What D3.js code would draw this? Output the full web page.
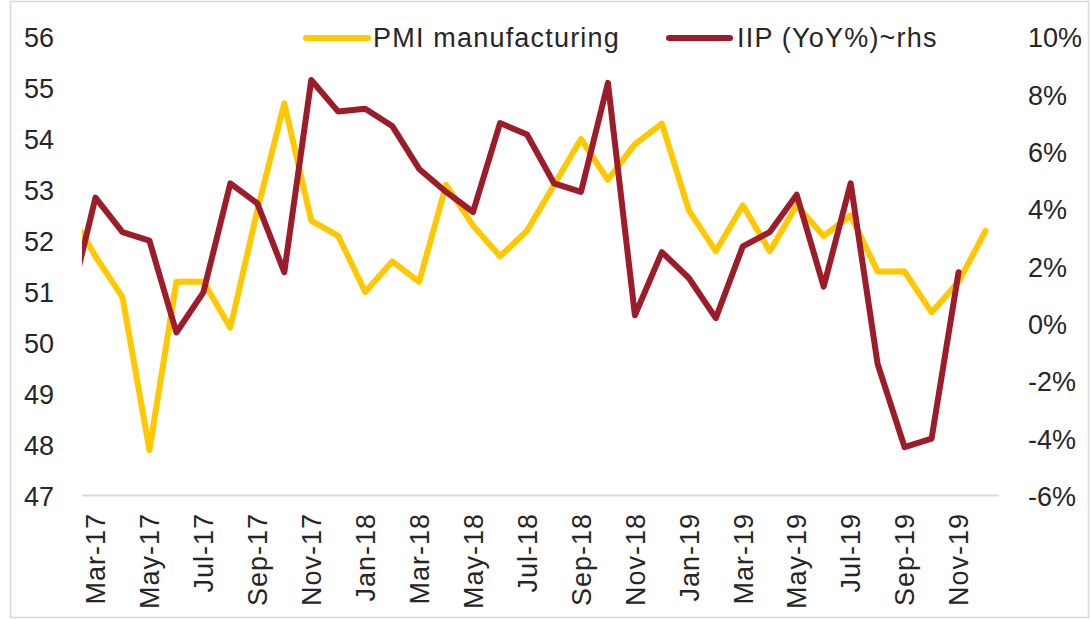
<!DOCTYPE html>
<html>
<head>
<meta charset="utf-8">
<script src="https://cdn.jsdelivr.net/npm/d3@7"></script>
<style>
  body { margin: 0; background: #fff; }
  text { font-family: "Liberation Sans", Arial, sans-serif; fill: #262626; }
</style>
</head>
<body>
<div id="box"></div>
<script>
// months start one before the first label (Feb-17); that point sits outside the plot and is clipped
const months = ['Feb-17','Mar-17','Apr-17','May-17','Jun-17','Jul-17','Aug-17','Sep-17','Oct-17','Nov-17','Dec-17',
  'Jan-18','Feb-18','Mar-18','Apr-18','May-18','Jun-18','Jul-18','Aug-18','Sep-18','Oct-18','Nov-18','Dec-18',
  'Jan-19','Feb-19','Mar-19','Apr-19','May-19','Jun-19','Jul-19','Aug-19','Sep-19','Oct-19','Nov-19','Dec-19'];

const pmi = [52.6, 51.7, 50.9, 47.9, 51.2, 51.2, 50.3, 52.6, 54.7, 52.4, 52.1,
  51.0, 51.6, 51.2, 53.1, 52.3, 51.7, 52.2, 53.1, 54.0, 53.2, 53.9, 54.3,
  52.6, 51.8, 52.7, 51.8, 52.7, 52.1, 52.5, 51.4, 51.4, 50.6, 51.2, 52.2];

const iip = [0.5, 4.4, 3.2, 2.9, -0.3, 1.1, 4.9, 4.2, 1.8, 8.5, 7.4,
  7.5, 6.9, 5.4, 4.6, 3.9, 7.0, 6.6, 4.9, 4.6, 8.4, 0.3, 2.5,
  1.6, 0.2, 2.7, 3.2, 4.5, 1.3, 4.9, -1.4, -4.3, -4.0, 1.8];

const leftTicks = [47, 48, 49, 50, 51, 52, 53, 54, 55, 56];
const rightTicks = [-6, -4, -2, 0, 2, 4, 6, 8, 10];
const xLabels = ['Mar-17','May-17','Jul-17','Sep-17','Nov-17','Jan-18','Mar-18','May-18','Jul-18',
  'Sep-18','Nov-18','Jan-19','Mar-19','May-19','Jul-19','Sep-19','Nov-19'];
const legendNames = ['PMI manufacturing', 'IIP (YoY%)~rhs'];

const W = 1091, H = 620;
const plot = { left: 82, right: 999, top: 37, bottom: 496 };
const yellow = '#FFC800', red = '#9C1C2A';

const svg = d3.select('#box').append('svg')
    .attr('width', W)
    .attr('height', H);

// outer frame
svg.append('rect')
    .attr('x', 10.5).attr('y', 1.5)
    .attr('width', 1078).attr('height', 616)
    .attr('fill', 'none')
    .attr('stroke', '#d9d9d9')
    .attr('stroke-width', 1.5);

const x = d3.scaleLinear()
    .domain([0.5, months.length - 0.5])
    .range([plot.left, plot.right]);

const yL = d3.scaleLinear().domain([47, 56]).range([plot.bottom, plot.top]);
const yR = d3.scaleLinear().domain([-6, 10]).range([plot.bottom, plot.top]);

svg.append('clipPath').attr('id', 'clip')
  .append('rect')
    .attr('x', plot.left).attr('y', 0)
    .attr('width', plot.right - plot.left).attr('height', H);

// category axis line
svg.append('line')
    .attr('x1', plot.left).attr('x2', plot.right)
    .attr('y1', plot.bottom - 0.5).attr('y2', plot.bottom - 0.5)
    .attr('stroke', '#d9d9d9')
    .attr('stroke-width', 2);

// left axis
const leftAxis = svg.append('g')
    .attr('transform', `translate(54,0)`)
    .call(d3.axisLeft(yL).tickValues(leftTicks).tickSize(0).tickPadding(0).tickFormat(d3.format('d')));
leftAxis.select('.domain').remove();

// right axis
const rightAxis = svg.append('g')
    .attr('transform', `translate(1028,0)`)
    .call(d3.axisRight(yR).tickValues(rightTicks).tickSize(0).tickPadding(0).tickFormat(d => d + '%'));
rightAxis.select('.domain').remove();

svg.selectAll('.tick text')
    .attr('font-size', '27px')
    .attr('font-family', '"Liberation Sans", Arial, sans-serif')
    .attr('fill', '#262626')
    .attr('dy', '0.36em');

// month labels, rotated
svg.append('g').selectAll('text')
  .data(xLabels)
  .join('text')
    .attr('transform', d => `translate(${x(months.indexOf(d))},513) rotate(-90)`)
    .attr('text-anchor', 'end')
    .attr('dy', '0.36em')
    .attr('font-size', '27px')
    .attr('letter-spacing', '1px')
    .text(d => d);

const lineL = d3.line()
    .x((d, i) => x(i))
    .y(d => yL(d));

const lineR = d3.line()
    .x((d, i) => x(i))
    .y(d => yR(d));

const lines = svg.append('g').attr('clip-path', 'url(#clip)');

lines.append('path')
    .datum(pmi)
    .attr('d', lineL)
    .attr('fill', 'none')
    .attr('stroke', yellow)
    .attr('stroke-width', 6)
    .attr('stroke-linejoin', 'round')
    .attr('stroke-linecap', 'round');

lines.append('path')
    .datum(iip)
    .attr('d', lineR)
    .attr('fill', 'none')
    .attr('stroke', red)
    .attr('stroke-width', 6)
    .attr('stroke-linejoin', 'round')
    .attr('stroke-linecap', 'round');

// legend
const legend = [
  { name: legendNames[0], color: yellow, x1: 306, x2: 368, tx: 373 },
  { name: legendNames[1], color: red, x1: 669, x2: 730, tx: 737 }
];

legend.forEach(l => {
  svg.append('line')
      .attr('x1', l.x1).attr('x2', l.x2)
      .attr('y1', 38).attr('y2', 38)
      .attr('stroke', l.color)
      .attr('stroke-width', 6)
      .attr('stroke-linecap', 'round');
  svg.append('text')
      .attr('x', l.tx).attr('y', 47)
      .attr('font-size', '27px')
      .attr('letter-spacing', '1.2px')
      .text(l.name);
});
</script>
</body>
</html>
